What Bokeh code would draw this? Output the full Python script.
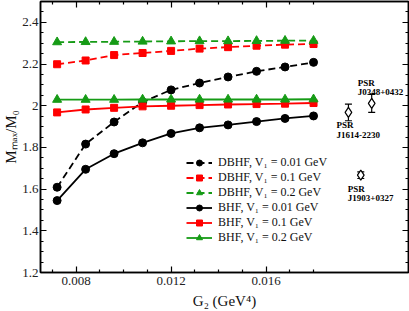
import math
from bokeh.plotting import figure
from bokeh.models import (Range1d, FixedTicker, LinearAxis, Legend, LegendItem,
                          Whisker, ColumnDataSource, CustomJSTickFormatter)
from bokeh.core.properties import value
from bokeh.embed import file_html
from bokeh.resources import INLINE

# ---------------- data ----------------
g2 = [0.0072, 0.0084, 0.0096, 0.0108, 0.0120, 0.0132, 0.0144, 0.0156, 0.0168, 0.0180]
dbhf_v001 = [1.609, 1.816, 1.922, 2.018, 2.076, 2.109, 2.138, 2.165, 2.186, 2.208]
dbhf_v01 = [2.199, 2.217, 2.243, 2.253, 2.263, 2.274, 2.281, 2.288, 2.293, 2.296]
dbhf_v02 = [2.305, 2.306, 2.307, 2.308, 2.309, 2.310, 2.310, 2.311, 2.312, 2.312]
bhf_v001 = [1.545, 1.695, 1.770, 1.822, 1.867, 1.894, 1.908, 1.924, 1.939, 1.951]
bhf_v01 = [1.968, 1.982, 1.990, 1.997, 2.000, 2.003, 2.006, 2.008, 2.010, 2.013]
bhf_v02 = [2.029, 2.029, 2.029, 2.030, 2.030, 2.030, 2.030, 2.030, 2.030, 2.031]

series_labels = ["DBHF, V\u2081 = 0.01 GeV", "DBHF, V\u2081 = 0.1 GeV", "DBHF, V\u2081 = 0.2 GeV",
                 "BHF, V\u2081 = 0.01 GeV", "BHF, V\u2081 = 0.1 GeV", "BHF, V\u2081 = 0.2 GeV"]

psr_names = ["J1614-2230", "J0348+0432", "J1903+0327"]
psr_g2 = [0.01947, 0.02045, 0.01999]
psr_mass = [1.968, 2.011, 1.667]
psr_err = [0.040, 0.043, 0.016]

x_title = "G\u2082 (GeV\u2074)"
y_title = "M\u2098\u2090\u2093/M\u2080"

x_major = [0.008, 0.012, 0.016]
x_major_labels = ["0.008", "0.012", "0.016"]
x_minor = [0.007, 0.009, 0.010, 0.011, 0.013, 0.014, 0.015, 0.017, 0.018]
y_major = [1.2, 1.4, 1.6, 1.8, 2.0, 2.2, 2.4]
y_major_labels = ["1.2", "1.4", "1.6", "1.8", "2", "2.2", "2.4"]
y_minor = [1.25, 1.3, 1.35, 1.45, 1.5, 1.55, 1.65, 1.7, 1.75, 1.85, 1.9, 1.95,
           2.05, 2.1, 2.15, 2.25, 2.3, 2.35, 2.45]

# ---------------- style ----------------
BLACK = "#000000"
RED = "#ff0000"
GREEN = "#169b16"
SERIF = "Liberation Serif"

p = figure(width=409, height=311, output_backend="svg", toolbar_location=None,
           x_range=Range1d(0.0065, 0.022), y_range=Range1d(1.2, 2.5),
           min_border_left=39, min_border_right=1, min_border_top=1, min_border_bottom=38,
           x_axis_type=None, y_axis_type=None)
p.grid.visible = False
p.outline_line_color = BLACK
p.outline_line_width = 1.5
p.background_fill_color = "white"
p.border_fill_color = "white"

xt = FixedTicker(ticks=x_major, minor_ticks=x_minor)
yt = FixedTicker(ticks=y_major, minor_ticks=y_minor)
blank = CustomJSTickFormatter(code="return ''")


def style_axis(ax):
    ax.axis_line_color = BLACK
    ax.axis_line_width = 1.5
    ax.major_tick_in = 6
    ax.major_tick_out = 0
    ax.minor_tick_in = 3
    ax.minor_tick_out = 0
    ax.major_tick_line_color = BLACK
    ax.minor_tick_line_color = BLACK
    ax.major_tick_line_width = 1.2
    ax.minor_tick_line_width = 1.2
    ax.major_label_text_font = SERIF
    ax.major_label_text_font_size = "13px"
    ax.major_label_text_color = "#222222"
    ax.axis_label_text_font = SERIF
    ax.axis_label_text_font_style = "normal"
    ax.axis_label_text_color = "#111111"


xb = LinearAxis(ticker=xt, major_label_overrides=dict(zip(x_major, x_major_labels)),
                axis_label=x_title)
style_axis(xb)
xb.major_label_standoff = 4
xb.axis_label_standoff = 5
xb.axis_label_text_font_size = "15px"
p.add_layout(xb, "below")
yl = LinearAxis(ticker=yt, major_label_overrides=dict(zip(y_major, y_major_labels)),
                axis_label=y_title)
style_axis(yl)
yl.major_label_standoff = 2
yl.axis_label_standoff = 0
yl.axis_label_text_font_size = "15px"
p.add_layout(yl, "left")
xa = LinearAxis(ticker=xt, formatter=blank)
style_axis(xa)
xa.major_label_standoff = 0
p.add_layout(xa, "above")
yr = LinearAxis(ticker=yt, formatter=blank)
style_axis(yr)
yr.major_label_standoff = 0
p.add_layout(yr, "right")

# ---------------- series ----------------
series = [
    (dbhf_v001, BLACK, "circle", 8, "dashed"),
    (dbhf_v01, RED, "square", 7, "dashed"),
    (dbhf_v02, GREEN, "triangle", 9, "dashed"),
    (bhf_v001, BLACK, "circle", 8, "solid"),
    (bhf_v01, RED, "square", 7, "solid"),
    (bhf_v02, GREEN, "triangle", 9, "solid"),
]
draw_order = [3, 0, 4, 1, 5, 2]
items = {}
for i in draw_order:
    ys, col, mk, sz, dash = series[i]
    src = ColumnDataSource(dict(x=g2, y=ys))
    ld = "7 4" if dash == "dashed" else "solid"
    lr = p.line("x", "y", source=src, line_color=col, line_width=1.8, line_dash=ld)
    sr = p.scatter("x", "y", source=src, marker=mk, size=sz, fill_color=col, line_color=col)
    items[i] = LegendItem(label=series_labels[i], renderers=[lr, sr])

legend = Legend(items=[items[i] for i in range(6)], location=(146, 27))
legend.background_fill_alpha = 0
legend.border_line_color = None
legend.padding = 0
legend.margin = 0
legend.spacing = 0
legend.glyph_width = 26
legend.glyph_height = 15
legend.label_height = 15
legend.label_standoff = 6
legend.label_text_font = SERIF
legend.label_text_font_size = "12px"
legend.label_text_color = "#111111"
p.add_layout(legend, "center")

# ---------------- pulsars ----------------
psr_src = ColumnDataSource(dict(x=psr_g2, y=psr_mass,
                                lo=[m - e for m, e in zip(psr_mass, psr_err)],
                                hi=[m + e for m, e in zip(psr_mass, psr_err)]))
wh = Whisker(source=psr_src, base="x", lower="lo", upper="hi", dimension="height",
             line_color=BLACK, line_width=1.2)
for head in (wh.upper_head, wh.lower_head):
    head.size = 7
    head.line_color = BLACK
    head.line_width = 1.2
p.add_layout(wh)
p.scatter("x", "y", source=psr_src, marker="diamond", size=10,
          fill_color="white", line_color=BLACK, line_width=1.2)

# label offsets (px) relative to each pulsar point: (dx, dy_PSR, dy_name)
psr_offsets = [(-12, 13, 23), (-14, -20, -11), (-13, 14, 23)]
for name, gx, my, (dx, d1, d2) in zip(psr_names, psr_g2, psr_mass, psr_offsets):
    for txt, dy in (("PSR", d1), (name, d2)):
        p.text(x=[gx], y=[my], text=[txt], x_offset=dx, y_offset=dy,
               text_font=value(SERIF), text_font_size="9px", text_font_style="bold",
               text_color=BLACK, text_baseline="alphabetic", text_align="left")

open("out.html", "w").write(file_html(p, INLINE))
